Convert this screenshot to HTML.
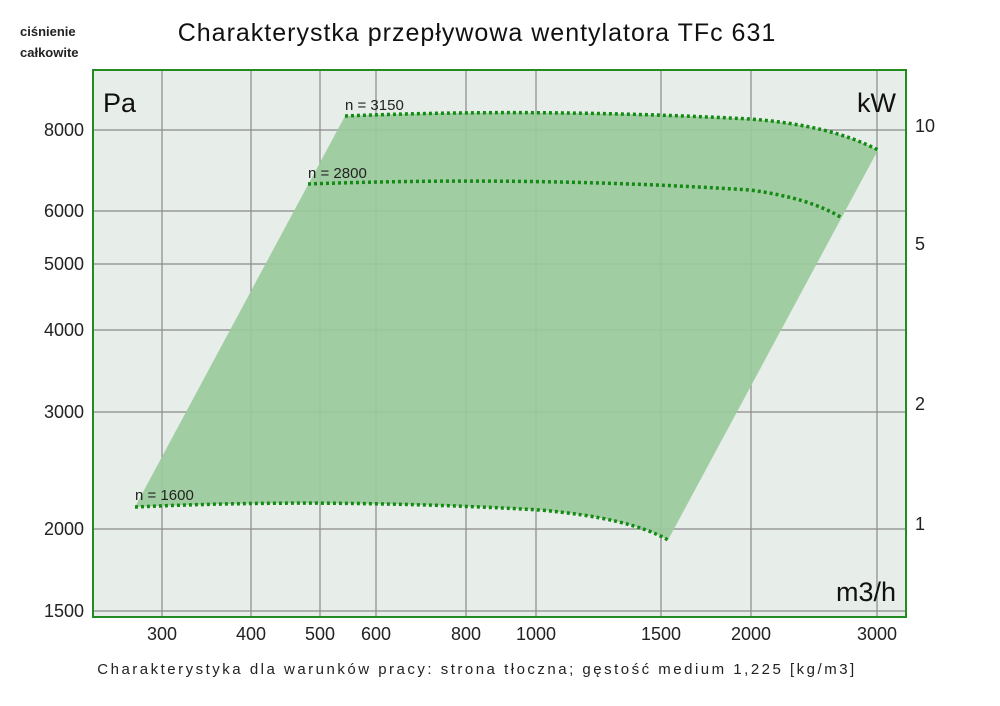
<!DOCTYPE html>
<html><head><style>body{margin:0;background:#fff;}svg{display:block;font-family:"Liberation Sans",sans-serif;}</style></head><body>
<svg width="1000" height="706" xmlns="http://www.w3.org/2000/svg">
<text x="20" y="36" font-size="13" font-weight="bold" fill="#222">ciśnienie</text>
<text x="20" y="57" font-size="13" font-weight="bold" fill="#222">całkowite</text>
<text x="477" y="41" font-size="25" text-anchor="middle" fill="#111" letter-spacing="1">Charakterystka przepływowa wentylatora TFc 631</text>
<rect x="93" y="70" width="813" height="547" fill="#e7ede9"/>
<g stroke="#8a8a8a" stroke-width="1.2">
<line x1="162" y1="70" x2="162" y2="617"/><line x1="251" y1="70" x2="251" y2="617"/><line x1="320" y1="70" x2="320" y2="617"/><line x1="376" y1="70" x2="376" y2="617"/><line x1="466" y1="70" x2="466" y2="617"/><line x1="536" y1="70" x2="536" y2="617"/><line x1="661" y1="70" x2="661" y2="617"/><line x1="751" y1="70" x2="751" y2="617"/><line x1="877" y1="70" x2="877" y2="617"/>
<line x1="93" y1="130" x2="906" y2="130"/><line x1="93" y1="211" x2="906" y2="211"/><line x1="93" y1="264" x2="906" y2="264"/><line x1="93" y1="330" x2="906" y2="330"/><line x1="93" y1="412" x2="906" y2="412"/><line x1="93" y1="529" x2="906" y2="529"/><line x1="93" y1="611" x2="906" y2="611"/>
</g>
<path d="M135,507 L345,116 Q540,108 750,119 Q830,125 878,150 L668,540 Q630,518 540,510 Q330,498 135,507 Z" fill="#9bca9b" fill-opacity="0.92"/>
<g fill="none" stroke="#138a13" stroke-width="3.5" stroke-dasharray="3,3">
<path d="M345,116 Q540,108 750,119 Q830,125 878,150"/>
<path d="M308,184 Q530,176 750,190 Q810,198 842,218"/>
<path d="M135,507 Q330,498 540,510 Q630,518 668,540"/>
</g>
<rect x="93" y="70" width="813" height="547" fill="none" stroke="#228b22" stroke-width="2"/>
<g font-size="15" fill="#222">
<text x="345" y="110">n = 3150</text><text x="308" y="178">n = 2800</text><text x="135" y="500">n = 1600</text>
</g>
<text x="103" y="112" font-size="27" fill="#111">Pa</text>
<text x="896" y="112" font-size="27" fill="#111" text-anchor="end">kW</text>
<text x="896" y="601" font-size="27" fill="#111" text-anchor="end">m3/h</text>
<g font-size="18" fill="#222" text-anchor="end">
<text x="84" y="136">8000</text><text x="84" y="217">6000</text><text x="84" y="270">5000</text><text x="84" y="336">4000</text><text x="84" y="418">3000</text><text x="84" y="535">2000</text><text x="84" y="617">1500</text>
</g>
<g font-size="18" fill="#222">
<text x="915" y="132">10</text><text x="915" y="250">5</text><text x="915" y="410">2</text><text x="915" y="530">1</text>
</g>
<g font-size="18" fill="#222" text-anchor="middle">
<text x="162" y="640">300</text><text x="251" y="640">400</text><text x="320" y="640">500</text><text x="376" y="640">600</text><text x="466" y="640">800</text><text x="536" y="640">1000</text><text x="661" y="640">1500</text><text x="751" y="640">2000</text><text x="877" y="640">3000</text>
</g>
<text x="477" y="674" font-size="15" fill="#222" text-anchor="middle" letter-spacing="2.5">Charakterystyka dla warunków pracy: strona tłoczna; gęstość medium 1,225 [kg/m3]</text>
</svg>
</body></html>
